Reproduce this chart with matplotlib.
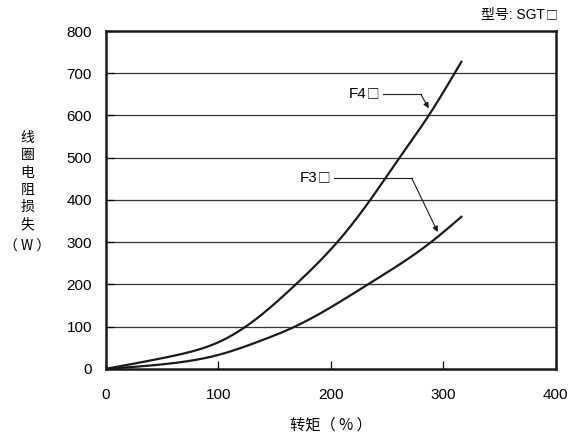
import numpy as np
import matplotlib.pyplot as plt

plt.rcParams['font.family'] = ['Liberation Sans', 'Noto Sans CJK SC', 'DejaVu Sans']

# 读图得到的数据 (转矩 %, 线圈电阻损失 W)
f4_x = [0, 55, 84, 100, 130, 168, 205, 235, 261, 287, 310, 316]
f4_y = [0, 28, 47, 63, 111, 198, 298, 400, 500, 600, 700, 727]
f3_x = [0, 55, 100, 137, 168, 233, 289, 316]
f3_y = [0, 12, 33, 66, 100, 200, 300, 360]

x_ticks = [0, 100, 200, 300, 400]
y_ticks = [0, 100, 200, 300, 400, 500, 600, 700, 800]

CJK = ['Noto Sans CJK SC', 'Liberation Sans']


def smooth(xs, ys, n=300):
    # 自然三次样条, 只用来把读出的点连成平滑曲线
    xs = np.asarray(xs, float)
    ys = np.asarray(ys, float)
    npts = len(xs)
    h = np.diff(xs)
    A = np.zeros((npts, npts))
    b = np.zeros(npts)
    A[0, 0] = A[-1, -1] = 1
    for i in range(1, npts - 1):
        A[i, i - 1] = h[i - 1]
        A[i, i] = 2 * (h[i - 1] + h[i])
        A[i, i + 1] = h[i]
        b[i] = 6 * ((ys[i + 1] - ys[i]) / h[i] - (ys[i] - ys[i - 1]) / h[i - 1])
    M = np.linalg.solve(A, b)
    xx = np.linspace(xs[0], xs[-1], n)
    k = np.clip(np.searchsorted(xs, xx) - 1, 0, npts - 2)
    a = xs[k + 1] - xx
    c = xx - xs[k]
    hk = h[k]
    yy = (M[k] * a**3 / (6 * hk) + M[k + 1] * c**3 / (6 * hk)
          + (ys[k] / hk - M[k] * hk / 6) * a
          + (ys[k + 1] / hk - M[k + 1] * hk / 6) * c)
    return xx, yy


fig = plt.figure(figsize=(5.73, 4.37), dpi=100)
ax = fig.add_axes([0.185, 0.156, 0.785, 0.773])

for y in y_ticks[1:-1]:
    ax.axhline(y, color='#333333', lw=0.9, zorder=1)

x, y = smooth(f4_x, f4_y)
ax.plot(x, y, color='#1a1a1a', lw=1.6, zorder=3)
x, y = smooth(f3_x, f3_y)
ax.plot(x, y, color='#1a1a1a', lw=1.6, zorder=3)

ax.set_xlim(0, 400)
ax.set_ylim(0, 800)
ax.set_xticks(x_ticks)
ax.set_yticks(y_ticks)
ax.tick_params(direction='in', length=6, width=0.9, labelsize=11, pad=14)
ax.tick_params(axis='y', pad=10)
for s in ax.spines.values():
    s.set_linewidth(1.8)
    s.set_color('#1a1a1a')


def box_label(xr, yc, name):
    # 文字 + 方框, 方框用 CJK 字体画得和大写字母一样高
    ax.text(xr - 10.5, yc, name, ha='right', va='center', fontsize=11)
    ax.text(xr - 10.5, yc + 2, '□', ha='left', va='center', fontsize=9,
            family=CJK)


# 标注
ax.annotate('', xy=(287, 617), xytext=(280, 650),
            arrowprops=dict(arrowstyle='-|>', color='#1a1a1a', lw=0.8,
                            mutation_scale=8, shrinkA=0, shrinkB=0))
ax.plot([246, 280], [650, 650], color='#1a1a1a', lw=0.8)
box_label(242, 650, 'F4')

ax.annotate('', xy=(295, 324), xytext=(272, 451),
            arrowprops=dict(arrowstyle='-|>', color='#1a1a1a', lw=0.8,
                            mutation_scale=8, shrinkA=0, shrinkB=0))
ax.plot([203, 272], [451, 451], color='#1a1a1a', lw=0.8)
box_label(199, 451, 'F3')

ax.set_xlabel('转矩（ % ）', fontsize=11, labelpad=10, family=CJK)
fig.text(0.048, 0.585, '线\n圈\n电\n阻\n损\n失', ha='center', va='center',
         fontsize=10, linespacing=1.3, family=CJK)
fig.text(0.047, 0.435, '（ W ）', ha='center', va='center', fontsize=10,
         family=CJK)
fig.text(0.952, 0.965, '型号: SGT', ha='right', va='center', fontsize=10)
fig.text(0.952, 0.967, '□', ha='left', va='center', fontsize=8.5, family=CJK)

fig.savefig('out.png', dpi=100)
